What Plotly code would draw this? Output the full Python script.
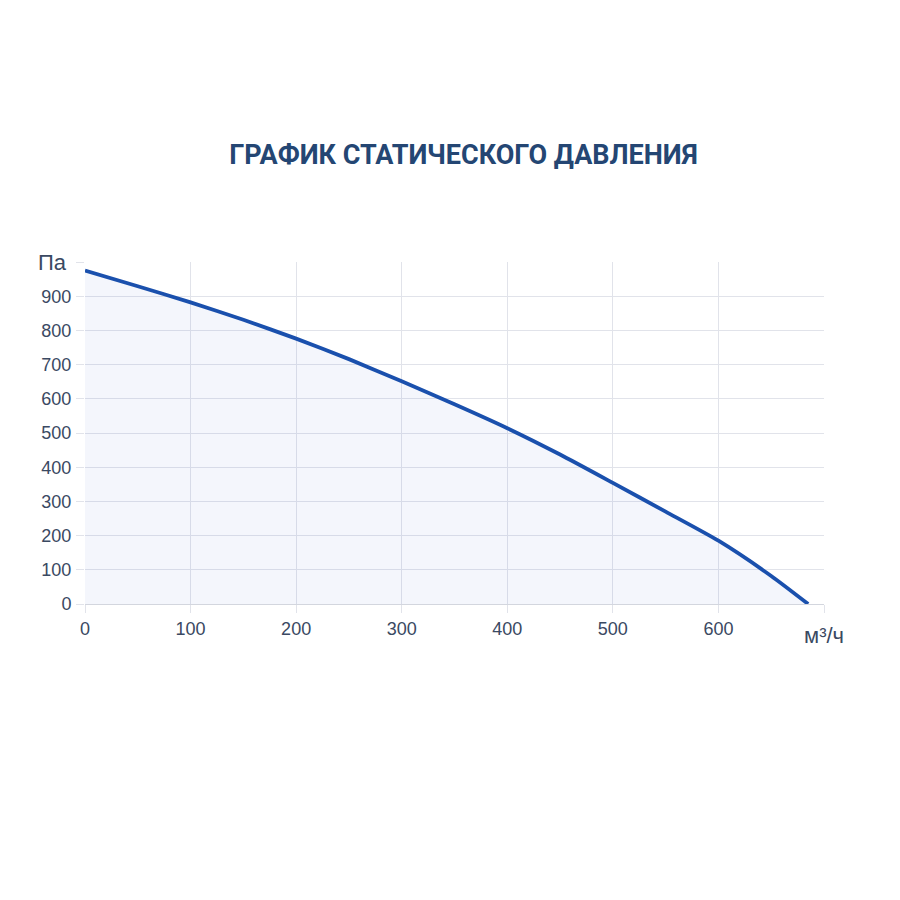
import plotly.graph_objects as go

# ---------- Data ----------
airflow = [0, 50, 100, 150, 200, 250, 300, 350, 400, 450, 500, 550, 600, 650, 685]   # м³/ч
pressure = [975, 929, 882, 831, 776, 716, 651, 584, 514, 437, 354, 270, 185, 82, 0]  # Па

x_ticks = [0, 100, 200, 300, 400, 500, 600, 700]
x_labels = ["0", "100", "200", "300", "400", "500", "600", ""]
y_ticks = [0, 100, 200, 300, 400, 500, 600, 700, 800, 900, 1000]
y_labels = ["0", "100", "200", "300", "400", "500", "600", "700", "800", "900", ""]

LINE = "#1a50ad"
FILL = "rgba(60,110,200,0.06)"
GRID = "#e1e3ea"
TEXT = "#3a4962"
FONT = "Liberation Sans, Arial, sans-serif"

fig = go.Figure()

fig.add_trace(go.Scatter(
    x=airflow, y=pressure,
    mode="lines",
    line=dict(color=LINE, width=3.8, shape="spline", smoothing=0.6),
    fill="tozeroy", fillcolor=FILL,
    hoverinfo="x+y",
))

axis_font = dict(family=FONT, size=18, color=TEXT)

fig.update_xaxes(
    range=[0, 700], tickvals=x_ticks, ticktext=x_labels,
    showgrid=True, gridcolor=GRID, gridwidth=1,
    ticks="outside", ticklen=8, tickcolor=GRID,
    showline=True, linecolor="#d3d6de", zeroline=False,
    tickfont=axis_font, ticklabelstandoff=0, fixedrange=True,
)
fig.update_yaxes(
    range=[0, 1000], tickvals=y_ticks, ticktext=y_labels,
    showgrid=True, gridcolor=GRID, gridwidth=1,
    ticks="outside", ticklen=8, tickcolor=GRID,
    showline=False, zeroline=False,
    tickfont=axis_font, ticklabelstandoff=1, fixedrange=True,
)

# axis unit labels
fig.add_annotation(text="Па", xref="paper", yref="paper", x=0, y=1,
                   xanchor="right", yanchor="middle", xshift=-16, showarrow=False,
                   font=dict(family=FONT, size=22, color=TEXT))
fig.add_annotation(text="м³/ч", xref="paper", yref="paper", x=1, y=0,
                   xanchor="center", yanchor="middle", yshift=-31, showarrow=False,
                   font=dict(family=FONT, size=22, color=TEXT))

fig.update_layout(
    width=900, height=900,
    title=dict(text="<b>ГРАФИК СТАТИЧЕСКОГО ДАВЛЕНИЯ</b>", x=455.5 / 900, xanchor="center",
               y=1 - 147 / 900, yanchor="middle",
               font=dict(family="Roboto, sans-serif", size=27, color="#244673")),
    margin=dict(l=77, r=84, t=254, b=304),
    plot_bgcolor="white", paper_bgcolor="white",
    showlegend=False,
)

fig.write_html("out.html")
